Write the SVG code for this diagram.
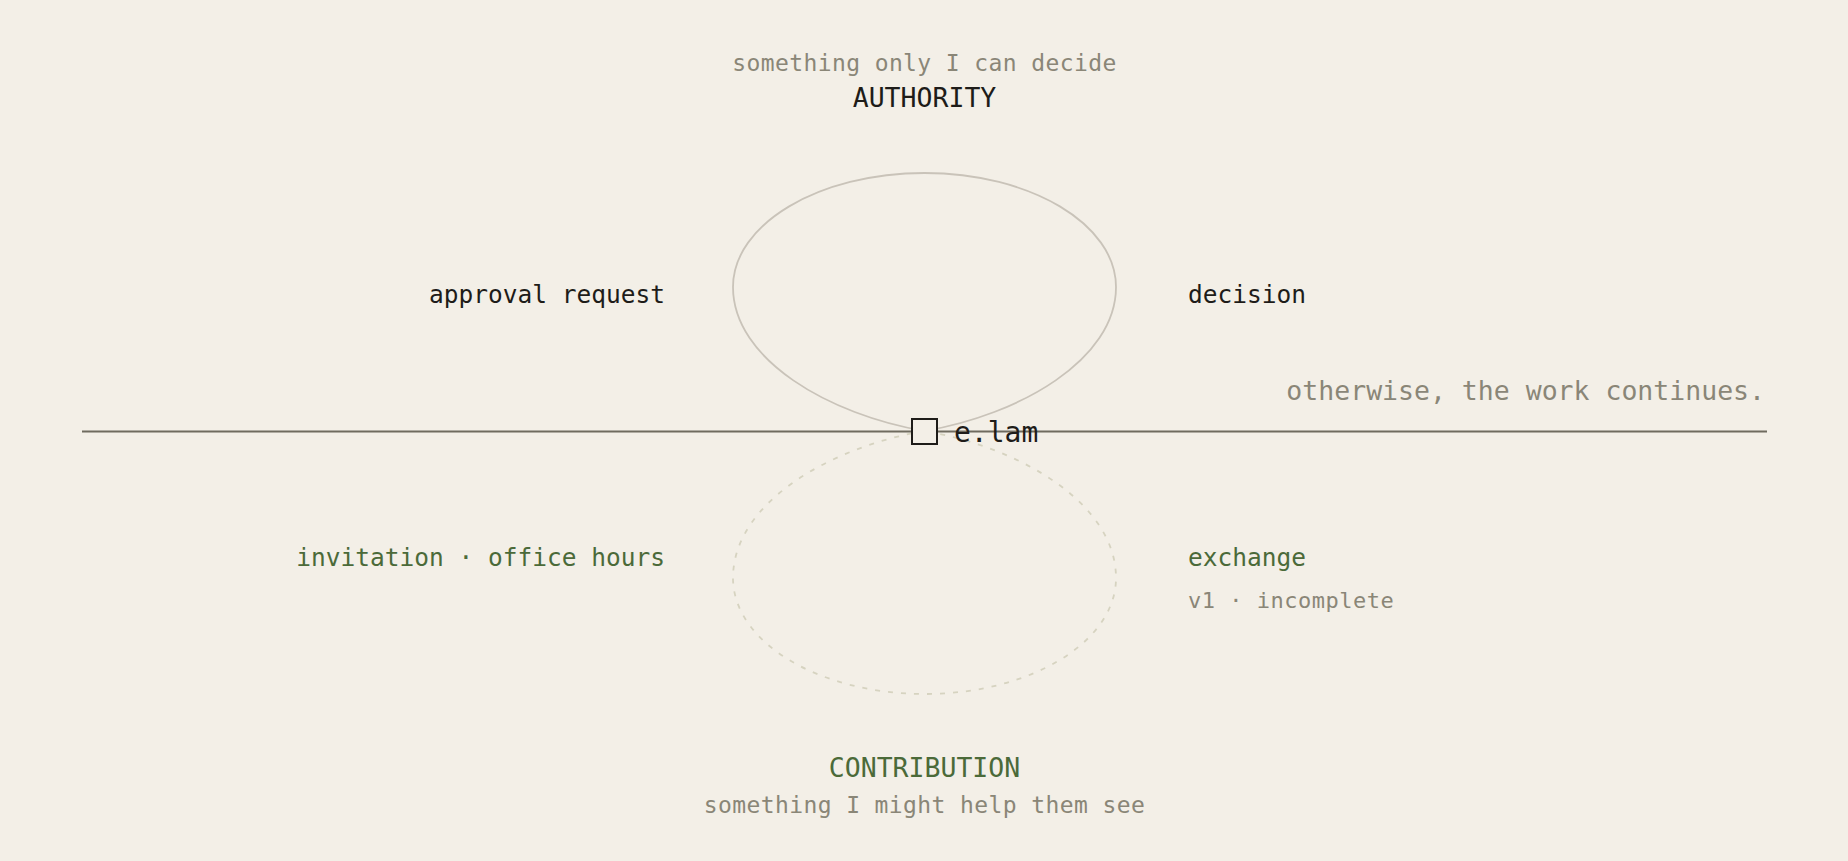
<svg xmlns="http://www.w3.org/2000/svg" width="1848" height="861" viewBox="0 0 1848 861">
<style>
text{font-family:"DejaVu Sans Mono","Liberation Mono",monospace;}
.dark{fill:#1e1c19;font-size:24.5px;}
.gray{fill:#8a8677;}
.green{fill:#4b6a39;font-size:24.5px;}
.sub{font-size:23px;letter-spacing:0.4px;}
.head{font-size:26.5px;}
</style>
<rect width="1848" height="861" fill="#f3efe7"/>
<g id="connectors">
<path id="authority-loop" d="M924.5,431 C830,415 733,360 733,287 C733,224 819,173 924.5,173 C1030,173 1116,224 1116,287 C1116,360 1019,415 924.5,431 Z" fill="none" stroke="#c9c3b9" stroke-width="1.8"/>
<path id="contribution-loop" d="M924.5,431 C830,447 733,503 733,578 C733,642 819,694 924.5,694 C1030,694 1116,642 1116,578 C1116,503 1019,447 924.5,431 Z" fill="none" stroke="#d6d3c0" stroke-width="1.8" stroke-dasharray="5 8"/>
<line id="timeline" x1="82" y1="431.5" x2="1767" y2="431.5" stroke="#6f6b5f" stroke-width="2.2"/>
</g>
<g id="authority">
<text class="gray sub" x="924.5" y="71" text-anchor="middle">something only I can decide</text>
<text class="dark head" x="924.5" y="107" text-anchor="middle">AUTHORITY</text>
</g>
<g id="approval-request"><text class="dark" x="665" y="303" text-anchor="end">approval request</text></g>
<g id="decision"><text class="dark" x="1188" y="303">decision</text></g>
<g id="otherwise"><text class="gray" x="1765" y="400" text-anchor="end" style="font-size:26.5px">otherwise, the work continues.</text></g>
<g id="e-lam">
<rect x="912" y="419" width="25" height="25" fill="#f3efe7" stroke="#1e1c19" stroke-width="2"/>
<text class="dark" x="954" y="442" style="font-size:28px">e.lam</text>
</g>
<g id="invitation"><text class="green" x="665" y="566" text-anchor="end">invitation · office hours</text></g>
<g id="exchange">
<text class="green" x="1188" y="566">exchange</text>
<text class="gray" x="1188" y="608" style="font-size:22px;letter-spacing:0.5px">v1 · incomplete</text>
</g>
<g id="contribution">
<text class="head" x="924.5" y="777" text-anchor="middle" fill="#4b6a39">CONTRIBUTION</text>
<text class="gray sub" x="924.5" y="813" text-anchor="middle">something I might help them see</text>
</g>
</svg>
